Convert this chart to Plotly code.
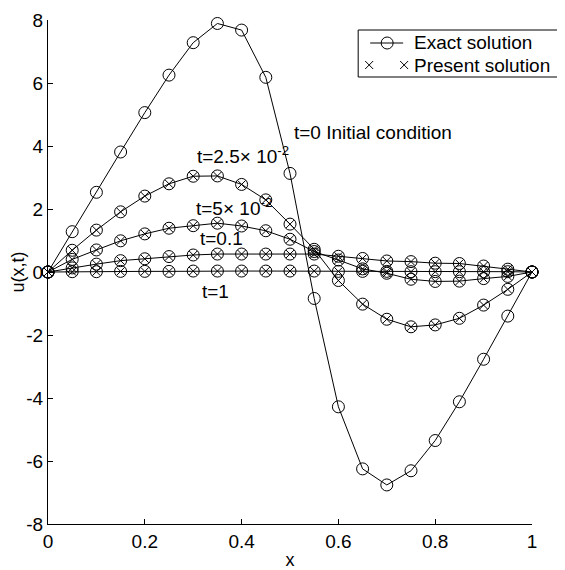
import plotly.graph_objects as go

x = [0.0, 0.05, 0.1, 0.15, 0.2, 0.25, 0.3, 0.35, 0.4, 0.45, 0.5,
     0.55, 0.6, 0.65, 0.7, 0.75, 0.8, 0.85, 0.9, 0.95, 1.0]

u_t0 = [0.0, 1.28, 2.53, 3.81, 5.06, 6.25, 7.28, 7.89, 7.68, 6.18, 3.13,
        -0.84, -4.28, -6.25, -6.76, -6.31, -5.35, -4.12, -2.77, -1.40, 0.0]
u_t0025 = [0.0, 0.69, 1.33, 1.91, 2.41, 2.80, 3.04, 3.05, 2.78, 2.29, 1.52,
           0.72, -0.27, -1.02, -1.50, -1.74, -1.68, -1.47, -1.05, -0.55, 0.0]
u_t005 = [0.0, 0.40, 0.70, 0.99, 1.21, 1.39, 1.47, 1.55, 1.46, 1.31, 1.04,
          0.65, 0.38, 0.10, -0.04, -0.23, -0.30, -0.29, -0.21, -0.14, 0.0]
u_t01 = [0.0, 0.13, 0.25, 0.36, 0.42, 0.49, 0.54, 0.57, 0.57, 0.57, 0.57,
         0.57, 0.50, 0.43, 0.35, 0.33, 0.28, 0.27, 0.19, 0.09, 0.0]
u_t1 = [0.0, 0.01, 0.01, 0.02, 0.02, 0.02, 0.03, 0.03, 0.03, 0.03, 0.03,
        0.03, 0.02, 0.02, 0.02, 0.01, 0.01, 0.01, 0.01, 0.01, 0.0]

exact_series = [u_t0, u_t0025, u_t005, u_t01, u_t1]
present_series = [u_t0025, u_t005, u_t01, u_t1]

x_ticks = [0, 0.2, 0.4, 0.6, 0.8, 1]
x_tick_text = ["0", "0.2", "0.4", "0.6", "0.8", "1"]
y_ticks = [-8, -6, -4, -2, 0, 2, 4, 6, 8]
y_tick_text = ["-8", "-6", "-4", "-2", "0", "2", "4", "6", "8"]

labels = ["t=0 Initial condition", "t=2.5\u00d7 10<sup>-2</sup>",
          "t=5\u00d7 10<sup>-2</sup>", "t=0.1", "t=1"]
label_pos = [(0.505, 4.44), (0.304, 3.71), (0.302, 2.05), (0.309, 1.05), (0.315, -0.63)]

legend_names = ["Exact solution", "Present solution"]

FONT = "Liberation Sans, Arial, sans-serif"

# page body has an 8px margin: work in screen pixels and shift
OFF = 8
W, H = 565, 570
L, R, T, B = 47.5 - OFF, 532.0 - OFF, 20.0 - OFF, 524.0 - OFF
PW, PH = R - L, B - T


def px_x(p):
    return (p - OFF - L) / PW


def px_y(p):
    return (B - (p - OFF)) / PH


fig = go.Figure()
for ys in exact_series:
    fig.add_trace(go.Scatter(
        x=x, y=ys, mode="lines+markers", cliponaxis=False,
        line=dict(color="black", width=1),
        marker=dict(symbol="circle-open", size=12, color="black", line=dict(width=1)),
        name=legend_names[0], showlegend=False))
for ys in present_series:
    fig.add_trace(go.Scatter(
        x=x, y=ys, mode="markers", cliponaxis=False,
        marker=dict(symbol="x-thin-open", size=8, color="black", line=dict(width=1, color="black")),
        name=legend_names[1], showlegend=False))

for txt, (ax_, ay_) in zip(labels, label_pos):
    fig.add_annotation(x=ax_, y=ay_, xref="x", yref="y", text=txt, showarrow=False,
                       xanchor="left", yanchor="middle",
                       font=dict(family=FONT, size=19, color="black"))

# manual legend box (MATLAB style)
shapes = [
    dict(type="rect", xref="paper", yref="paper",
         x0=px_x(358), x1=px_x(562), y0=px_y(77), y1=px_y(30),
         line=dict(color="black", width=1), fillcolor="white", layer="above"),
    dict(type="line", xref="paper", yref="paper",
         x0=px_x(370), x1=px_x(403), y0=px_y(43), y1=px_y(43),
         line=dict(color="black", width=1), layer="above"),
    dict(type="circle", xref="paper", yref="paper",
         x0=px_x(381), x1=px_x(393), y0=px_y(49), y1=px_y(37),
         line=dict(color="black", width=1), fillcolor="rgba(0,0,0,0)", layer="above"),
]
for cx in (369, 404):
    shapes.append(dict(type="line", xref="paper", yref="paper",
                       x0=px_x(cx - 4), x1=px_x(cx + 4), y0=px_y(61), y1=px_y(69),
                       line=dict(color="black", width=1), layer="above"))
    shapes.append(dict(type="line", xref="paper", yref="paper",
                       x0=px_x(cx - 4), x1=px_x(cx + 4), y0=px_y(69), y1=px_y(61),
                       line=dict(color="black", width=1), layer="above"))
fig.update_layout(shapes=shapes)
for name, py in zip(legend_names, (43, 65)):
    fig.add_annotation(x=px_x(412), y=px_y(py), xref="paper", yref="paper", text=name,
                       showarrow=False, xanchor="left", yanchor="middle",
                       font=dict(family=FONT, size=19, color="black"))

fig.update_layout(
    width=W, height=H,
    margin=dict(l=L, r=W - R, t=T, b=H - B),
    paper_bgcolor="white", plot_bgcolor="white",
    font=dict(family=FONT, size=19, color="black"),
    showlegend=False,
)
fig.update_xaxes(range=[0, 1], tickvals=x_ticks, ticktext=x_tick_text, automargin=False,
                 showgrid=False, zeroline=False, showline=True, linecolor="black", linewidth=1,
                 ticks="inside", ticklen=5, tickcolor="black",
                 title=dict(text="x", standoff=2, font=dict(size=18)))
fig.update_yaxes(range=[-8, 8], tickvals=y_ticks, ticktext=y_tick_text, automargin=False,
                 showgrid=False, zeroline=False, showline=True, linecolor="black", linewidth=1,
                 ticks="inside", ticklen=5, tickcolor="black",
                 title=dict(text="u(x,t)", standoff=2, font=dict(size=18)))

fig.write_html("out.html")
